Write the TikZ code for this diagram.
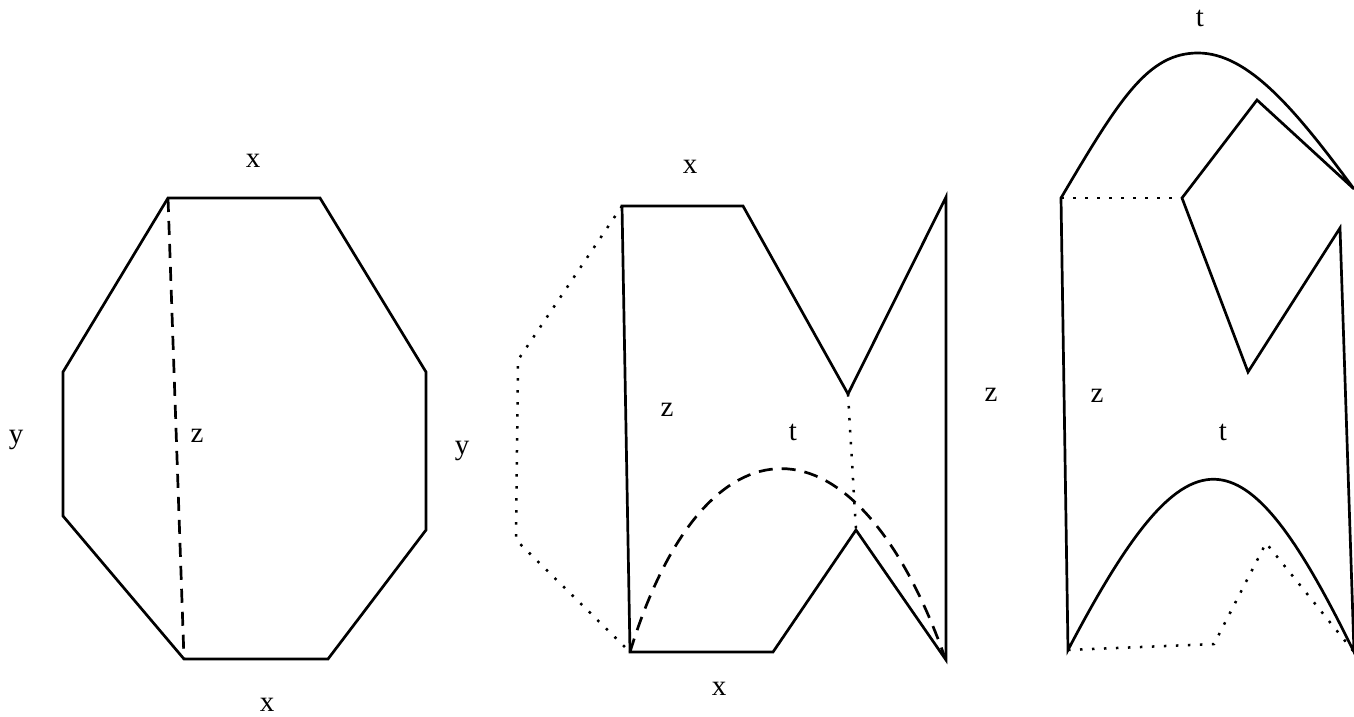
\documentclass[tikz,border=0pt]{standalone}
\usepackage{fontspec}
\setmainfont{Liberation Serif}
\tikzset{
  edge/.style={black,line width=1.35pt},
  fold/.style={black,line width=1.35pt,dash pattern=on 7pt off 4.5pt},
  seam/.style={black,line width=1.25pt,dash pattern=on 1.25pt off 4.75pt},
  lbl/.style={font=\fontsize{14.5}{16}\selectfont,inner sep=0pt},
}
\begin{document}
\begin{tikzpicture}[x=0.5pt,y=-0.5pt]
  \useasboundingbox (0,0) rectangle (1354,717);
  % octagon
  \coordinate (oA) at (168,198);
  \coordinate (oB) at (320,198);
  \coordinate (oC) at (426,372);
  \coordinate (oD) at (426,530);
  \coordinate (oE) at (328,659);
  \coordinate (oF) at (184,659);
  \coordinate (oG) at (63,516);
  \coordinate (oH) at (63,372);
  \draw[edge] (oA) -- (oB) -- (oC) -- (oD) -- (oE) -- (oF) -- (oG) -- (oH) -- cycle;
  \draw[fold] (oA) -- (oF);
  \node[lbl] (oxt) at (253,161) {x};
  \node[lbl] (oxb) at (267,705) {x};
  \node[lbl] (oyl) at (16,440) {y};
  \node[lbl] (oyr) at (462,451) {y};
  \node[lbl] (oz) at (197,436) {z};
  % middle piece
  \coordinate (mA) at (622,206);
  \coordinate (mB) at (743,206);
  \coordinate (mC) at (848,394);
  \coordinate (mD) at (946,197);
  \coordinate (mE) at (946,660);
  \coordinate (mF) at (856,530);
  \coordinate (mG) at (773,652);
  \coordinate (mH) at (630,652);
  \coordinate (mI) at (518,360);
  \coordinate (mJ) at (516,540);
  \coordinate (mK) at (944,655);
  \draw[edge] (mA) -- (mB) -- (mC) -- (mD) -- (mE) -- (mF) -- (mG) -- (mH) -- cycle;
  \draw[seam] (mA) -- (mI) -- (mJ) -- (mH);
  \draw[seam] (mC) -- (mF);
  \draw[fold] (mH) .. controls (705,407) and (855,407) .. (mK);
  \node[lbl] (mxt) at (690,167) {x};
  \node[lbl] (mxb) at (719,689) {x};
  \node[lbl] (mz) at (667,410) {z};
  \node[lbl] (mt) at (793,432) {t};
  \node[lbl] (mzr) at (991,395) {z};
  % right piece
  \coordinate (rA) at (1061,198);
  \coordinate (rB) at (1182,198);
  \coordinate (rC) at (1257,100);
  \coordinate (rD) at (1354,189);
  \coordinate (rE) at (1248,372);
  \coordinate (rF) at (1340,228);
  \coordinate (rG) at (1354,652);
  \coordinate (rH) at (1068,650);
  \coordinate (rI) at (1214,644);
  \coordinate (rJ) at (1266,543);
  \coordinate (rP) at (1198,53);
  \draw[edge] (rA) .. controls (1120,98) and (1148,53) .. (rP)
    .. controls (1248,53) and (1295,109) .. (rD) -- (rC) -- (rB) -- (rE) -- (rF) -- (rG)
    .. controls (1242,423) and (1188,421) .. (rH) -- cycle;
  \draw[seam] (rA) -- (rB);
  \draw[seam] (rH) -- (rI) -- (rJ) -- (rG);
  \node[lbl] (rtt) at (1200,18) {t};
  \node[lbl] (rz) at (1097,396) {z};
  \node[lbl] (rt) at (1223,432) {t};
\end{tikzpicture}
\end{document}
